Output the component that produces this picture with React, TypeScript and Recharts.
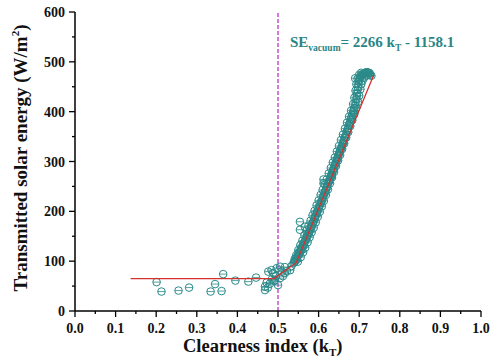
import React from 'react';
import { ScatterChart, Scatter, XAxis, YAxis, ReferenceLine } from 'recharts';

const xTicks = [0, 0.05, 0.1, 0.15, 0.2, 0.25, 0.3, 0.35, 0.4, 0.45, 0.5, 0.55, 0.6, 0.65, 0.7, 0.75, 0.8, 0.85, 0.9, 0.95, 1];
const yTicks = [0, 50, 100, 150, 200, 250, 300, 350, 400, 450, 500, 550, 600];

// scattered low-clearness measurements [kT, SE]
const lowPoints: [number, number][] = [
  [0.201, 58], [0.213, 39], [0.255, 41], [0.281, 47], [0.334, 39], [0.345, 54], [0.361, 40], [0.365, 74],
  [0.395, 61], [0.427, 59], [0.446, 67], [0.468, 49], [0.468, 42], [0.472, 57], [0.476, 79], [0.48, 55],
  [0.484, 82], [0.488, 76], [0.493, 62], [0.497, 86], [0.5, 52], [0.505, 66], [0.505, 89], [0.509, 79],
  [0.512, 70], [0.517, 76], [0.517, 88], [0.522, 80], [0.53, 82], [0.533, 90], [0.538, 96], [0.542, 100],
  [0.475, 47], [0.49, 60], [0.495, 70], [0.485, 64],
];

// stray points near the rising branch
const strayPoints: [number, number][] = [
  [0.554, 179], [0.554, 163], [0.566, 169], [0.612, 264], [0.612, 256], [0.632, 270], [0.69, 467],
];

// dense rising branch
const curvePoints: [number, number][] = [
  [0.540, 98], [0.541, 104], [0.543, 101], [0.545, 106], [0.547, 104], [0.548, 110], [0.550, 112], [0.551, 117],
  [0.553, 115], [0.555, 120], [0.556, 124], [0.558, 122], [0.560, 128], [0.561, 132], [0.563, 131], [0.565, 137],
  [0.566, 140], [0.568, 142], [0.570, 147], [0.571, 150], [0.573, 151], [0.575, 156], [0.576, 158], [0.578, 160],
  [0.580, 165], [0.581, 168], [0.583, 170], [0.585, 176], [0.586, 178], [0.588, 180], [0.590, 186], [0.591, 189],
  [0.593, 191], [0.595, 196], [0.596, 199], [0.598, 201], [0.600, 206], [0.601, 209], [0.603, 212], [0.605, 216],
  [0.606, 219], [0.608, 221], [0.610, 226], [0.611, 230], [0.613, 233], [0.615, 237], [0.616, 240], [0.618, 243],
  [0.620, 248], [0.621, 251], [0.623, 255], [0.625, 259], [0.626, 262], [0.628, 265], [0.630, 270], [0.631, 273],
  [0.633, 276], [0.635, 281], [0.636, 284], [0.638, 287], [0.640, 292], [0.641, 295], [0.643, 299], [0.645, 303],
  [0.646, 306], [0.648, 310], [0.650, 315], [0.651, 318], [0.653, 321], [0.655, 325], [0.656, 328], [0.658, 331],
  [0.660, 336], [0.661, 340], [0.663, 343], [0.665, 348], [0.666, 351], [0.668, 355], [0.670, 360], [0.671, 364],
  [0.673, 367], [0.675, 373], [0.676, 376], [0.678, 380], [0.680, 386], [0.681, 390], [0.683, 393], [0.685, 399],
  [0.686, 403], [0.688, 407], [0.690, 412], [0.691, 418], [0.693, 425], [0.694, 431], [0.695, 437], [0.696, 443],
  [0.697, 449], [0.698, 455], [0.699, 460], [0.700, 464], [0.702, 468], [0.704, 471], [0.706, 473], [0.708, 475],
  [0.710, 476], [0.712, 477], [0.714, 478], [0.716, 478], [0.718, 479], [0.720, 479], [0.722, 478], [0.724, 478],
  [0.726, 477],
  [0.549, 99], [0.556, 108], [0.562, 118], [0.567, 127], [0.573, 138], [0.578, 148], [0.583, 158], [0.588, 167],
  [0.593, 178], [0.598, 189], [0.603, 199], [0.608, 210], [0.613, 221], [0.618, 233], [0.623, 244], [0.628, 256],
  [0.633, 268], [0.638, 279], [0.643, 291], [0.648, 302], [0.653, 313], [0.658, 325], [0.663, 336], [0.668, 348],
  [0.673, 359], [0.678, 371], [0.683, 383], [0.688, 395], [0.693, 408], [0.697, 420], [0.700, 432], [0.703, 445],
  [0.705, 455], [0.708, 462], [0.712, 468], [0.717, 472], [0.722, 474], [0.727, 474], [0.730, 472],
  [0.545, 112], [0.550, 122], [0.555, 132], [0.560, 141], [0.565, 152], [0.570, 161], [0.575, 171], [0.580, 181],
  [0.585, 192], [0.590, 201], [0.595, 212], [0.600, 222], [0.605, 233], [0.610, 243], [0.615, 254], [0.620, 264],
  [0.625, 276], [0.630, 287], [0.635, 298], [0.640, 308], [0.645, 320], [0.650, 331], [0.655, 343], [0.660, 354],
  [0.665, 366], [0.670, 378], [0.675, 390], [0.680, 402], [0.685, 415], [0.688, 428], [0.691, 442], [0.693, 455],
  [0.696, 466], [0.700, 474], [0.705, 478],
];

// fitted red line vertices
const fitPoints: [number, number][] = [
  [0.137, 65], [0.49, 65], [0.545, 97], [0.736, 474],
];

const toObj = (arr: [number, number][]) => arr.map(([x, y]) => ({ x, y }));
const measured = [...toObj(lowPoints), ...toObj(strayPoints), ...toObj(curvePoints)];
const fitData = toObj(fitPoints);

const TEAL = '#2b8a8a';
const FONT = '"Liberation Serif", "Times New Roman", serif';

const Marker = (props: any) => {
  const { cx, cy } = props;
  if (cx == null || cy == null) return <g />;
  return (
    <g>
      <circle cx={cx} cy={cy} r={3.8} fill="none" stroke={TEAL} strokeWidth={1} />
      <line x1={cx - 3.8} x2={cx + 3.8} y1={cy} y2={cy} stroke={TEAL} strokeWidth={0.8} />
    </g>
  );
};

const isMajor = (v: number, step: number) => Math.abs(v / step - Math.round(v / step)) < 1e-6;

const XTick = (props: any) => {
  const { x, y, payload } = props;
  const v = payload.value as number;
  const major = isMajor(v, 0.1);
  return (
    <g>
      <line x1={x} x2={x} y1={y} y2={y + (major ? 6 : 3)} stroke="#000" strokeWidth={1.3} />
      {major && (
        <text x={x} y={y + 22} textAnchor="middle" style={{ fontFamily: FONT, fontWeight: 700, fontSize: 14 }} fill="#111">
          {v.toFixed(1)}
        </text>
      )}
    </g>
  );
};

const YTick = (props: any) => {
  const { x, y, payload } = props;
  const v = payload.value as number;
  const major = isMajor(v, 100);
  return (
    <g>
      <line x1={x - (major ? 6 : 3)} x2={x} y1={y} y2={y} stroke="#000" strokeWidth={1.3} />
      {major && (
        <text x={x - 10} y={y + 5} textAnchor="end" style={{ fontFamily: FONT, fontWeight: 700, fontSize: 14 }} fill="#111">
          {v}
        </text>
      )}
    </g>
  );
};

export default function App() {
  return (
    <div style={{ position: 'absolute', left: 0, top: 0, width: 493, height: 363, background: '#fff' }}>
      <ScatterChart width={493} height={363} margin={{ top: 12, right: 12, bottom: 12, left: 15 }}>
        <XAxis
          type="number"
          dataKey="x"
          domain={[0, 1]}
          ticks={xTicks}
          interval={0}
          tick={<XTick />}
          tickLine={false}
          tickSize={0}
          tickMargin={0}
          axisLine={{ stroke: '#000', strokeWidth: 1.5 }}
          height={40}
          allowDataOverflow
        />
        <YAxis
          type="number"
          dataKey="y"
          domain={[0, 600]}
          ticks={yTicks}
          interval={0}
          tick={<YTick />}
          tickLine={false}
          tickSize={0}
          tickMargin={0}
          axisLine={{ stroke: '#000', strokeWidth: 1.5 }}
          width={60}
          allowDataOverflow
        />
        <ReferenceLine x={0.5} stroke="#c64ed6" strokeWidth={1.5} strokeDasharray="4 2" />
        <Scatter data={measured} shape={<Marker />} isAnimationActive={false} />
        <Scatter
          data={fitData}
          line={{ stroke: '#d2322d', strokeWidth: 1.3 }}
          shape={() => <g />}
          isAnimationActive={false}
        />
      </ScatterChart>
      <svg width={493} height={363} style={{ position: 'absolute', left: 0, top: 0, pointerEvents: 'none' }}>
        <text x={290} y={47} style={{ fontFamily: FONT, fontWeight: 700, fontSize: 15 }} fill="#2a8585">
          SE
          <tspan fontSize={9.5} dy={4}>vacuum</tspan>
          <tspan dy={-4}>= 2266 k</tspan>
          <tspan fontSize={9.5} dy={4}>T</tspan>
          <tspan dy={-4}> - 1158.1</tspan>
        </text>
        <text x={183} y={352} style={{ fontFamily: FONT, fontWeight: 700, fontSize: 18.5 }} fill="#111">
          Clearness index (k
          <tspan fontSize={11} dy={4}>T</tspan>
          <tspan dy={-4}>)</tspan>
        </text>
        <text
          transform="translate(27,158) rotate(-90)"
          textAnchor="middle"
          style={{ fontFamily: FONT, fontWeight: 700, fontSize: 19 }}
          fill="#111"
        >
          Transmitted solar energy (W/m
          <tspan fontSize={11} dy={-8}>2</tspan>
          <tspan dy={8}>)</tspan>
        </text>
      </svg>
    </div>
  );
}
